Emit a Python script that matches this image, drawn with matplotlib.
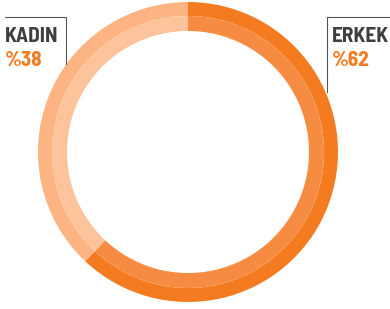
import matplotlib
matplotlib.use("Agg")
import matplotlib.pyplot as plt
from matplotlib.lines import Line2D

categories = ["ERKEK", "KADIN"]
values = [62, 38]
value_labels = ["%62", "%38"]

outer_colors = ["#F47B20", "#FBB482"]
inner_colors = ["#F68C42", "#FDC49B"]

W, H = 390, 309
fig = plt.figure(figsize=(W / 100, H / 100), dpi=100)

cx, cy, R = 188, 152, 150
ax = fig.add_axes([(cx - R) / W, (H - cy - R) / H, 2 * R / W, 2 * R / H])
ax.pie(values, radius=1.0, colors=outer_colors, startangle=90, counterclock=False,
       wedgeprops=dict(width=14 / 150, linewidth=0))
ax.pie(values, radius=136 / 150, colors=inner_colors, startangle=90, counterclock=False,
       wedgeprops=dict(width=15 / 150, linewidth=0))
ax.set_xlim(-1, 1)
ax.set_ylim(-1, 1)
ax.set_aspect("equal")
ax.axis("off")

def fx(x):
    return x / W

def fy(y):
    return 1 - y / H

font = ["Barlow Semi Condensed", "Roboto Condensed", "DejaVu Sans"]
dark = "#3f3f3f"
orange = "#F47B20"
lc = "#555555"

# KADIN label (left)
fig.add_artist(Line2D([fx(5), fx(66), fx(66)], [fy(17), fy(17), fy(64)],
                      transform=fig.transFigure, color=lc, lw=0.8))
fig.text(fx(5), fy(36.5), categories[1], ha="left", va="center", fontsize=15.3,
         fontweight="bold", color=dark, family=font)
fig.text(fx(5), fy(61), value_labels[1], ha="left", va="center", fontsize=15.3,
         fontweight="bold", color=orange, family=font)

# ERKEK label (right)
fig.add_artist(Line2D([fx(390), fx(327), fx(327)], [fy(17), fy(17), fy(92)],
                      transform=fig.transFigure, color=lc, lw=0.8))
fig.text(fx(332), fy(36.5), categories[0], ha="left", va="center", fontsize=15.3,
         fontweight="bold", color=dark, family=font)
fig.text(fx(332), fy(61), value_labels[0], ha="left", va="center", fontsize=15.3,
         fontweight="bold", color=orange, family=font)

fig.savefig("out.png", dpi=100, facecolor="white")
